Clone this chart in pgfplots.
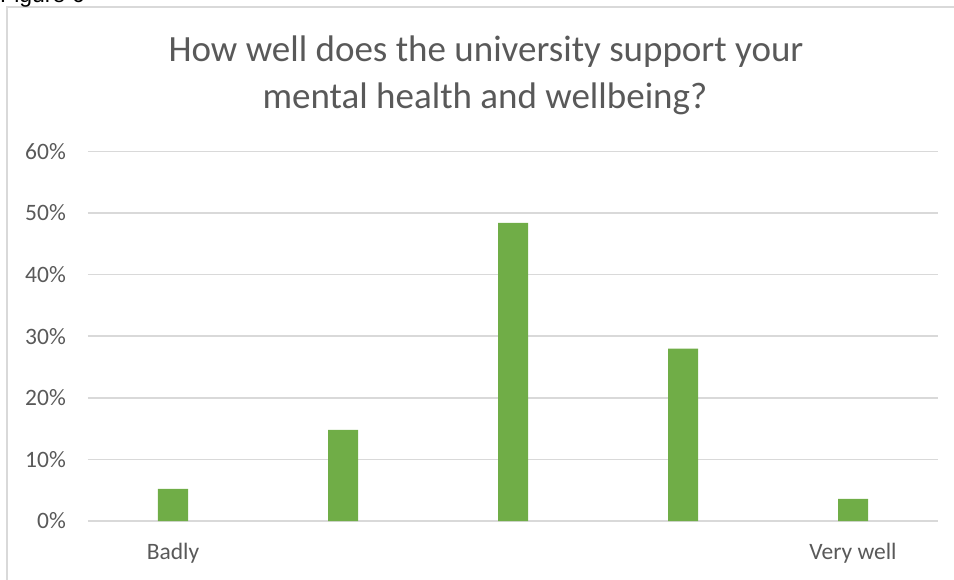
\documentclass[border=0pt]{standalone}
\usepackage{pgfplots}
\pgfplotsset{compat=1.18}
\usepackage{fontspec}
\setmainfont{Carlito}
\newfontfamily\arialfont{Liberation Sans}
\definecolor{txt}{HTML}{595959}
\definecolor{gridc}{HTML}{D9D9D9}
\definecolor{barc}{HTML}{70AD47}
\begin{document}
\begin{tikzpicture}[x=1pt,y=1pt]
\clip (0,0) rectangle (954,579);
% frame
\draw[gridc, line width=1.3pt] (7,-20) -- (7,572) -- (980,572);
% cut-off caption (as in the reference)
\node[anchor=base west, inner sep=0pt, font=\arialfont\fontsize{23}{28}\selectfont, text=black] at (0,576.5) {Figure 6};
% title
\node[anchor=base, inner sep=0pt, font=\fontsize{37}{45}\selectfont, text=txt] at (486,517.3) {How well does the university support your};
\node[anchor=base, inner sep=0pt, font=\fontsize{37}{45}\selectfont, text=txt] at (485,470.7) {mental health and wellbeing?};
\begin{axis}[
  at={(88pt,58pt)}, anchor=south west,
  scale only axis, width=850pt, height=369.6pt,
  xmin=-0.5, xmax=4.5, ymin=0, ymax=60,
  ytick={0,10,20,30,40,50,60},
  yticklabel={\pgfmathprintnumber{\tick}\%},
  xtick={0,1,2,3,4},
  xticklabels={Badly,,,,Very well},
  ymajorgrids,
  grid style={gridc, line width=1.5pt},
  axis lines*=left,
  axis line style={draw=none},
  major tick length=0pt,
  tick style={draw=none},
  /pgf/number format/assume math mode=true,
  tick label style={font=\fontsize{23.5}{28}\selectfont, text=txt},
  yticklabel style={anchor=east, inner sep=0pt, xshift=-22pt},
  xticklabel style={anchor=north, inner sep=0pt, yshift=-22pt},
  clip=false,
]
\addplot[ybar, bar width=30pt, fill=barc, draw=none] coordinates {(0,5.2) (1,14.8) (2,48.4) (3,28) (4,3.6)};
\end{axis}
\end{tikzpicture}
\end{document}
